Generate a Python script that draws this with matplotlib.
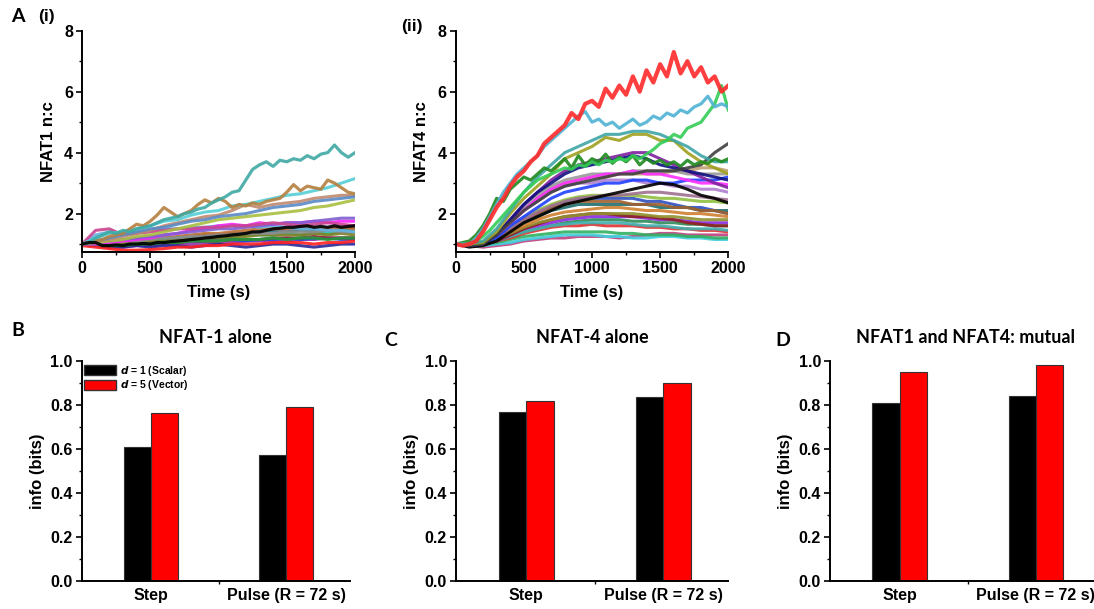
import numpy as np
import matplotlib.pyplot as plt
from matplotlib.patches import Patch
from matplotlib.ticker import MultipleLocator, FixedLocator

plt.rcParams['font.family'] = ['Liberation Sans', 'DejaVu Sans']
plt.rcParams['font.weight'] = 'bold'

### time grids of the traces (s)
t = np.arange(0, 2001, 100)
t_fine = np.arange(0, 2001, 50)

### NFAT1 n:c traces, panel A(i)
nfat1_colors = ['#a080e0', '#208080', '#c07030', '#9030b0', '#2050e0', '#20c0a0', '#a02040',
                '#808020', '#8c8c8c', '#28289a', '#ff2020', '#1f9a3a', '#66b3e0', '#ff22ff',
                '#7f5fd0', '#c9458f', '#a9bf3f', '#c08a70', '#5a8ac6', '#55cfd6']
nfat1_traces = [
    [1.0,1.0,1.0,1.05,1.1,1.1,1.15,1.2,1.25,1.25,1.3,1.35,1.35,1.4,1.45,1.45,1.5,1.5,1.55,1.55,1.6],
    [1.0,1.05,1.05,1.1,1.1,1.15,1.2,1.2,1.25,1.3,1.3,1.35,1.35,1.4,1.4,1.4,1.45,1.45,1.45,1.45,1.5],
    [1.0,1.0,1.05,1.1,1.15,1.15,1.2,1.25,1.3,1.35,1.35,1.4,1.45,1.5,1.5,1.5,1.55,1.55,1.5,1.55,1.5],
    [1.0,0.95,0.9,0.9,0.95,0.95,1.0,1.0,1.0,1.05,1.05,1.05,1.1,1.1,1.1,1.1,1.15,1.15,1.2,1.2,1.2],
    [1.0,0.95,0.95,1.0,1.0,1.05,1.05,1.1,1.1,1.1,1.15,1.15,1.1,1.15,1.15,1.2,1.15,1.2,1.2,1.15,1.15],
    [1.0,1.0,1.05,1.05,1.1,1.1,1.15,1.2,1.2,1.2,1.25,1.25,1.3,1.3,1.3,1.35,1.3,1.35,1.35,1.4,1.4],
    [1.0,1.0,0.95,1.0,1.0,1.05,1.05,1.05,1.1,1.1,1.1,1.15,1.15,1.15,1.2,1.2,1.2,1.25,1.2,1.2,1.2],
    [1.0,1.0,1.0,1.05,1.05,1.1,1.1,1.15,1.15,1.2,1.2,1.25,1.25,1.3,1.3,1.3,1.3,1.35,1.3,1.35,1.3],
    [1.0,1.0,1.05,1.1,1.1,1.15,1.2,1.2,1.25,1.25,1.3,1.3,1.35,1.35,1.35,1.4,1.4,1.4,1.45,1.4,1.4],
    [1.0,0.95,0.9,0.9,0.95,0.9,0.95,0.95,0.9,0.95,1.0,0.95,0.9,0.95,1.0,1.0,0.95,0.9,0.95,1.0,1.0],
    [0.95,0.9,0.85,0.8,0.8,0.82,0.85,0.9,0.9,0.95,0.95,1.0,1.0,1.0,1.05,1.05,1.05,1.0,1.05,1.05,1.1],
    [1.0,1.0,0.95,0.95,1.0,1.0,1.05,1.05,1.1,1.1,1.1,1.15,1.15,1.15,1.2,1.15,1.2,1.2,1.15,1.2,1.2],
    [1.0,1.3,1.4,1.35,1.4,1.45,1.5,1.5,1.55,1.55,1.6,1.6,1.6,1.55,1.6,1.55,1.5,1.5,1.45,1.45,1.4],
    [1.0,1.0,1.05,1.1,1.15,1.2,1.3,1.35,1.45,1.5,1.6,1.65,1.6,1.7,1.65,1.7,1.7,1.75,1.7,1.75,1.75],
    [1.0,1.05,1.1,1.15,1.2,1.25,1.3,1.35,1.4,1.45,1.5,1.5,1.55,1.6,1.65,1.7,1.7,1.75,1.8,1.85,1.85],
    [1.0,1.45,1.5,1.3,1.35,1.4,1.45,1.5,1.5,1.55,1.55,1.6,1.6,1.65,1.7,1.65,1.6,1.65,1.7,1.65,1.6],
    [1.0,1.05,1.1,1.15,1.25,1.3,1.4,1.5,1.6,1.7,1.8,1.85,1.9,1.95,2.0,2.05,2.1,2.2,2.25,2.35,2.45],
    [1.0,1.1,1.15,1.25,1.35,1.45,1.6,1.7,1.8,1.9,1.95,2.1,2.3,2.2,2.3,2.35,2.4,2.5,2.55,2.6,2.6],
    [1.0,1.1,1.2,1.3,1.4,1.5,1.55,1.65,1.75,1.8,1.9,1.95,2.0,2.1,2.2,2.25,2.3,2.4,2.45,2.5,2.55],
    [1.0,1.2,1.35,1.4,1.5,1.6,1.75,1.8,1.95,2.05,2.1,2.25,2.3,2.4,2.5,2.6,2.65,2.75,2.85,3.0,3.15],
]
# prominent NFAT1 traces sampled every 50 s
nfat1_fine_colors = ['#b5803f', '#3fa9a3', '#000000']
nfat1_fine = [
    [1.0,1.05,1.1,1.15,1.25,1.3,1.35,1.5,1.65,1.6,1.75,1.95,2.2,2.05,1.9,2.0,2.1,2.3,2.45,2.35,
     2.5,2.4,2.2,2.3,2.25,2.35,2.3,2.4,2.45,2.5,2.7,2.95,2.75,2.9,2.85,2.8,3.1,3.0,2.85,2.7,2.65],
    [1.0,1.05,1.2,1.3,1.4,1.35,1.45,1.4,1.5,1.55,1.6,1.7,1.8,1.85,1.9,2.0,2.05,2.15,2.2,2.35,
     2.45,2.55,2.7,2.75,3.1,3.45,3.6,3.7,3.55,3.75,3.7,3.8,3.75,3.9,3.8,3.95,4.0,4.25,4.0,3.85,4.0],
    [1.0,1.05,1.05,0.95,0.95,0.97,0.95,1.0,1.0,1.02,1.0,1.05,1.05,1.08,1.1,1.12,1.15,1.17,1.2,1.22,
     1.25,1.27,1.3,1.32,1.35,1.4,1.4,1.45,1.5,1.52,1.55,1.55,1.58,1.6,1.55,1.58,1.55,1.6,1.55,1.58,1.6],
]

### NFAT4 n:c traces, panel A(ii)
nfat4_colors = ['#2e8b57', '#c04080', '#40d0e0', '#30b060', '#e03030', '#40b0b0', '#8a2be2',
                '#902020', '#909030', '#3050c0', '#207070', '#a06030', '#d08030', '#90c040',
                '#a07090', '#b080d0', '#c0a070', '#2040ff', '#999999', '#ff30ff', '#000000',
                '#8020a0', '#101080', '#404040', '#a0a020', '#3fa5a5']
nfat4_traces = [
    [1.0,1.0,1.0,1.1,1.25,1.4,1.5,1.6,1.7,1.75,1.8,1.8,1.8,1.75,1.75,1.7,1.7,1.65,1.65,1.6,1.6],
    [1.0,0.95,0.9,0.95,1.0,1.1,1.15,1.2,1.2,1.25,1.25,1.25,1.2,1.25,1.3,1.35,1.35,1.3,1.3,1.3,1.3],
    [1.0,0.95,0.95,1.0,1.05,1.15,1.2,1.25,1.3,1.3,1.3,1.25,1.25,1.2,1.2,1.25,1.25,1.2,1.2,1.15,1.15],
    [1.0,1.0,1.0,1.05,1.15,1.25,1.3,1.35,1.4,1.4,1.4,1.4,1.35,1.35,1.3,1.3,1.3,1.25,1.25,1.2,1.2],
    [1.0,1.0,1.0,1.1,1.2,1.35,1.45,1.55,1.6,1.6,1.65,1.6,1.6,1.6,1.55,1.55,1.5,1.5,1.45,1.45,1.4],
    [1.0,1.0,1.0,1.1,1.25,1.4,1.5,1.6,1.65,1.7,1.7,1.7,1.7,1.65,1.6,1.6,1.55,1.5,1.5,1.5,1.45],
    [1.0,1.0,1.0,1.1,1.3,1.5,1.6,1.7,1.8,1.85,1.9,1.9,1.9,1.9,1.85,1.8,1.8,1.75,1.7,1.7,1.7],
    [1.0,1.0,1.0,1.1,1.3,1.5,1.65,1.8,1.9,1.95,2.0,2.0,1.95,1.9,1.9,1.85,1.8,1.7,1.65,1.6,1.6],
    [1.0,1.0,1.0,1.15,1.35,1.55,1.7,1.8,1.9,1.95,2.0,2.0,2.0,2.0,1.95,1.9,1.9,1.85,1.8,1.8,1.8],
    [1.0,1.0,1.0,1.2,1.5,1.8,2.0,2.2,2.4,2.5,2.5,2.5,2.5,2.5,2.4,2.4,2.3,2.2,2.2,2.1,2.0],
    [1.0,1.0,1.0,1.15,1.4,1.7,1.9,2.1,2.2,2.3,2.3,2.3,2.3,2.3,2.3,2.2,2.2,2.2,2.1,2.1,2.1],
    [1.0,1.0,1.0,1.2,1.5,1.8,2.0,2.2,2.3,2.4,2.4,2.4,2.4,2.3,2.3,2.3,2.2,2.2,2.1,2.1,2.0],
    [1.0,1.0,1.0,1.15,1.4,1.6,1.8,1.95,2.05,2.1,2.15,2.2,2.2,2.15,2.1,2.1,2.05,2.0,2.0,1.95,1.9],
    [1.0,1.0,1.05,1.25,1.55,1.85,2.1,2.3,2.45,2.55,2.6,2.6,2.6,2.6,2.55,2.5,2.5,2.45,2.4,2.4,2.35],
    [1.0,1.0,1.0,1.2,1.5,1.8,2.05,2.25,2.4,2.5,2.55,2.6,2.6,2.65,2.7,2.7,2.65,2.6,2.55,2.5,2.45],
    [1.0,1.0,1.05,1.3,1.7,2.1,2.4,2.7,2.9,3.0,3.0,3.1,3.1,3.1,3.0,3.0,2.9,2.9,2.8,2.8,2.7],
    [1.0,1.0,1.05,1.3,1.7,2.1,2.5,2.8,3.0,3.1,3.2,3.2,3.3,3.3,3.3,3.3,3.4,3.4,3.5,3.5,3.4],
    [1.0,1.0,1.0,1.2,1.6,1.9,2.2,2.5,2.7,2.8,2.9,3.0,3.0,3.1,3.1,3.0,3.0,3.1,3.1,3.1,3.2],
    [1.0,1.0,1.05,1.3,1.7,2.2,2.6,2.9,3.1,3.2,3.3,3.3,3.3,3.4,3.4,3.4,3.4,3.3,3.3,3.3,3.3],
    [1.0,1.0,1.05,1.3,1.7,2.1,2.5,2.8,3.0,3.1,3.2,3.3,3.3,3.4,3.3,3.3,3.2,3.1,3.0,3.0,2.95],
    [1.0,0.9,0.95,1.1,1.4,1.7,1.9,2.1,2.3,2.4,2.5,2.6,2.7,2.8,2.9,3.0,2.95,2.8,2.6,2.5,2.35],
    [1.0,1.0,1.05,1.3,1.8,2.3,2.7,3.1,3.4,3.6,3.7,3.8,3.9,4.0,4.0,3.8,3.6,3.4,3.2,3.0,2.85],
    [1.0,0.95,1.0,1.3,1.8,2.3,2.7,3.0,3.3,3.5,3.6,3.7,3.8,3.9,3.8,3.6,3.5,3.4,3.3,3.2,3.1],
    [1.0,0.95,1.0,1.3,1.7,2.1,2.4,2.7,2.9,3.0,3.1,3.2,3.3,3.3,3.4,3.4,3.4,3.5,3.6,4.0,4.3],
    [1.0,1.0,1.05,1.4,2.0,2.5,2.9,3.3,3.8,4.0,4.2,4.5,4.4,4.6,4.6,4.4,4.4,4.0,3.7,3.5,3.3],
    [1.0,1.0,1.1,1.5,2.1,2.7,3.2,3.6,4.0,4.2,4.4,4.6,4.6,4.7,4.7,4.6,4.4,4.2,3.9,3.7,3.7],
]
# prominent NFAT4 traces sampled every 50 s
nfat4_fine_colors = ['#1f8a1f', '#33cc55', '#4fb3d3', '#ff2a2a']
nfat4_fine = [
    [1.0,1.05,1.1,1.3,1.6,2.0,2.5,2.4,2.8,3.0,3.2,3.1,3.3,3.5,3.4,3.6,3.8,3.5,3.9,3.6,
     3.8,3.7,3.95,3.65,3.85,3.7,3.9,3.6,3.8,3.65,3.75,3.6,3.7,3.55,3.75,3.6,3.7,3.65,3.8,3.7,3.8],
    [1.0,1.0,1.0,1.1,1.25,1.45,1.7,1.95,2.2,2.45,2.7,2.9,3.1,3.2,3.3,3.4,3.5,3.45,3.6,3.55,
     3.7,3.6,3.75,3.7,3.8,3.75,3.9,3.8,3.95,4.1,4.3,4.4,4.6,4.5,4.8,4.9,5.0,5.3,5.6,6.2,5.4],
    [1.0,1.0,1.0,1.2,1.5,1.9,2.3,2.7,3.0,3.3,3.5,3.7,3.9,4.2,4.4,4.6,4.8,5.0,5.2,5.35,
     5.0,5.1,4.9,5.0,4.8,4.95,5.1,4.9,5.0,5.2,5.1,5.3,5.2,5.4,5.3,5.5,5.6,5.85,5.5,5.6,5.5],
    [1.0,0.95,1.0,1.1,1.4,1.8,2.2,2.5,2.9,3.2,3.4,3.7,3.9,4.3,4.5,4.7,4.9,5.3,5.1,5.6,
     5.7,5.5,6.1,5.8,6.2,5.9,6.5,6.0,6.7,6.3,6.9,6.5,7.3,6.6,7.0,6.5,6.8,6.3,6.5,6.0,6.2],
]

### information (bits), panels B-D
stimuli = ['Step', 'Pulse (R = 72 s)']
series_names = ['$\\mathit{d}$ = 1 (Scalar)', '$\\mathit{d}$ = 5 (Vector)']
nfat1_info = {'scalar': [0.61, 0.575], 'vector': [0.765, 0.79]}
nfat4_info = {'scalar': [0.77, 0.835], 'vector': [0.82, 0.90]}
mutual_info = {'scalar': [0.81, 0.84], 'vector': [0.95, 0.98]}

W, H = 1094, 609
fig = plt.figure(figsize=(W / 100, H / 100), dpi=100)

def box(l, r, top, bottom):
    return [l / W, 1 - bottom / H, (r - l) / W, (bottom - top) / H]

def style(ax):
    for s in ['top', 'right']:
        ax.spines[s].set_visible(False)
    for s in ['left', 'bottom']:
        ax.spines[s].set_linewidth(1.4)
    ax.tick_params(which='major', direction='out', length=4, width=1.2, labelsize=11.5, pad=2.5)
    ax.tick_params(which='minor', direction='out', length=2.5, width=1.0)

def traces(ax, data, colors, fine, fine_colors, ylabel):
    for y, c in zip(data, colors):
        ax.plot(t, y, color=c, lw=2.2, alpha=0.9)
    for y, c in zip(fine, fine_colors):
        lw = 3.0 if c == '#ff2a2a' else 2.3
        ax.plot(t_fine, y, color=c, lw=lw, alpha=0.9)
    ax.set_xlim(0, 2000)
    ax.set_ylim(0.75, 8)
    ax.xaxis.set_major_locator(MultipleLocator(500))
    ax.xaxis.set_minor_locator(MultipleLocator(250))
    ax.yaxis.set_major_locator(FixedLocator([2, 4, 6, 8]))
    ax.yaxis.set_minor_locator(FixedLocator([1, 3, 5, 7]))
    ax.set_xlabel('Time (s)', fontsize=12, fontweight='bold', labelpad=7)
    ax.set_ylabel(ylabel, fontsize=12, fontweight='bold', labelpad=6)
    style(ax)

def bars(ax, info, title, legend=False):
    x = np.arange(len(stimuli))
    ax.bar(x - 0.1, info['scalar'], width=0.2, color='black', edgecolor='#333333', lw=0.8)
    ax.bar(x + 0.1, info['vector'], width=0.2, color='#ff0000', edgecolor='#333333', lw=0.8)
    ax.set_xlim(-0.51, 1.47)
    ax.set_ylim(0, 1.0)
    ax.set_xticks(x)
    ax.set_xticklabels(stimuli)
    ax.xaxis.set_minor_locator(FixedLocator([0.5]))
    ax.yaxis.set_major_locator(MultipleLocator(0.2))
    ax.yaxis.set_minor_locator(MultipleLocator(0.1))
    ax.yaxis.set_major_formatter('{x:.1f}')
    style(ax)
    ax.tick_params(axis='x', which='major', length=0, pad=5, labelsize=11.5)
    ax.set_ylabel('info (bits)', fontsize=12, fontweight='bold', labelpad=4)
    ax.set_title(title, family='Lato', fontsize=13, fontweight='bold', pad=13)
    if legend:
        handles = [Patch(facecolor='black', edgecolor='#333333'),
                   Patch(facecolor='#ff0000', edgecolor='#333333')]
        leg = ax.legend(handles, series_names, loc='upper left', bbox_to_anchor=(0.0, 1.0),
                        frameon=True, prop={'weight': 'bold', 'size': 7.5},
                        handlelength=3.0, handleheight=1.1, handletextpad=0.4,
                        borderpad=0.15, borderaxespad=0.1, labelspacing=0.05)
        leg.get_frame().set_edgecolor('none')
        leg.get_frame().set_facecolor('white')
        leg.get_frame().set_alpha(1)

ax1 = fig.add_axes(box(82, 355, 30.7, 251.7))
traces(ax1, nfat1_traces, nfat1_colors, nfat1_fine, nfat1_fine_colors, 'NFAT1 n:c')
ax2 = fig.add_axes(box(455.7, 728.3, 30.7, 251.7))
traces(ax2, nfat4_traces, nfat4_colors, nfat4_fine, nfat4_fine_colors, 'NFAT4 n:c')

ax3 = fig.add_axes(box(81.7, 350, 361, 581))
bars(ax3, nfat1_info, 'NFAT-1 alone', legend=True)
ax4 = fig.add_axes(box(456, 728, 361, 581))
bars(ax4, nfat4_info, 'NFAT-4 alone')
ax5 = fig.add_axes(box(830, 1100, 361, 581))
bars(ax5, mutual_info, 'NFAT1 and NFAT4: mutual')

# panel letters
lab = dict(family='Lato', fontweight='bold', fontsize=14, va='center', ha='left')
fig.text(11 / W, 1 - 16 / H, 'A', **lab)
fig.text(38 / W, 1 - 17 / H, '(i)', family='Liberation Sans', fontweight='bold', fontsize=12.5,
         va='center', ha='left')
fig.text(401 / W, 1 - 27 / H, '(ii)', family='Liberation Sans', fontweight='bold', fontsize=12.5,
         va='center', ha='left')
fig.text(11 / W, 1 - 330 / H, 'B', **lab)
fig.text(384 / W, 1 - 340 / H, 'C', **lab)
fig.text(775 / W, 1 - 340 / H, 'D', **lab)

plt.savefig('out.png', dpi=100)
